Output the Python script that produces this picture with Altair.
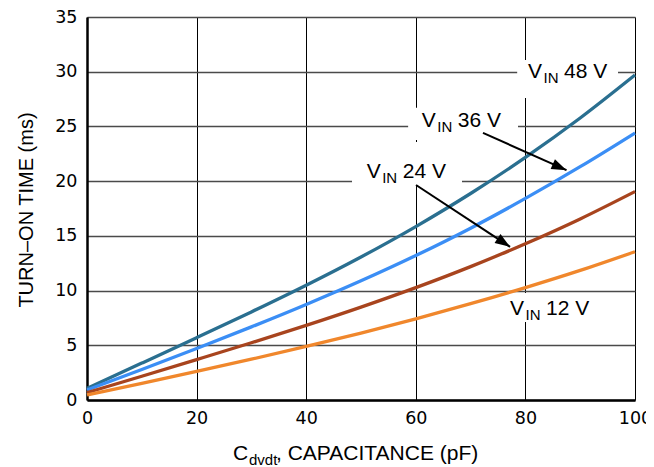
import altair as alt
import pandas as pd

# ---- data ----
cap = [0, 10, 20, 30, 40, 50, 60, 70, 80, 90, 100]
t48 = [1.07, 3.37, 5.69, 8.05, 10.49, 13.07, 15.85, 18.87, 22.17, 25.77, 29.7]
t36 = [0.91, 2.79, 4.71, 6.68, 8.73, 10.89, 13.2, 15.7, 18.42, 21.32, 24.4]
t24 = [0.67, 2.17, 3.69, 5.23, 6.82, 8.49, 10.27, 12.19, 14.28, 16.55, 19.05]
t12 = [0.46, 1.52, 2.61, 3.73, 4.9, 6.12, 7.42, 8.8, 10.27, 11.84, 13.55]
series = ["48 V", "36 V", "24 V", "12 V"]
colors = ["#2a6f90", "#3b8ef5", "#a8441e", "#f0872c"]

x_ticks = [0, 20, 40, 60, 80, 100]
y_ticks = [0, 5, 10, 15, 20, 25, 30, 35]

# label anchors (left of "V", baseline) in data units
lab_val = ["48 V", "36 V", "24 V", "12 V"]
lab_x = [80.47, 61.08, 51.04, 77.19]
lab_y = [29.43, 24.98, 20.27, 7.77]

# white label backgrounds (data units)
box_x1 = [78.5, 58.6, 48.36, 76.28]
box_x2 = [96.9, 78.65, 68.43, 92.7]
box_y1 = [31.08, 26.7, 23.58, 9.78]
box_y2 = [27.6, 23.77, 19.65, 7.13]

# arrows (start -> tip), data units
arr_x1 = [72.26, 60.04]
arr_y1 = [24.41, 19.65]
arr_x2 = [87.5, 77.2]
arr_y2 = [21.0, 14.0]
arr_ang = [23.8, 33.3]

rows = []
for name, vals in zip(series, [t48, t36, t24, t12]):
    for c, t in zip(cap, vals):
        rows.append({"C": c, "T": t, "V": name})
df = pd.DataFrame(rows)
df_lab = pd.DataFrame({"lx": lab_x, "ly": lab_y, "val": lab_val})
df_box = pd.DataFrame({"x1": box_x1, "x2": box_x2, "y1": box_y1, "y2": box_y2})
df_arr = pd.DataFrame({"x1": arr_x1, "y1": arr_y1, "x2": arr_x2, "y2": arr_y2, "ang": arr_ang})

xs = alt.Scale(domain=[0, 100], nice=False, zero=False)
ys = alt.Scale(domain=[0, 35], nice=False, zero=False)

TICK_FONT = "DejaVu Sans"
FONT = "Liberation Sans"

x_axis = alt.Axis(values=x_ticks, title=None, grid=True, gridColor="#000000", gridWidth=1,
                  domainColor="#000000", domainWidth=2.5, ticks=False, labelFont=TICK_FONT,
                  labelFontSize=17.5, labelColor="#000000", labelPadding=9, labelFlush=False,
                  labelOverlap=False)
y_axis = alt.Axis(values=y_ticks, title=None, grid=True, gridColor="#4a4a4a", gridWidth=1.4,
                  domainColor="#000000", domainWidth=2.5, ticks=False, labelFont=TICK_FONT,
                  labelFontSize=17.5, labelColor="#000000", labelPadding=10, labelFlush=False,
                  labelOverlap=False)


def X(f):
    return alt.X(f, scale=xs, axis=x_axis)


def Y(f):
    return alt.Y(f, scale=ys, axis=y_axis)


boxes = alt.Chart(df_box).mark_rect(fill="white").encode(
    x=X("x1:Q"), x2="x2:Q", y=Y("y1:Q"), y2="y2:Q",
)

lines = alt.Chart(df).mark_line(strokeWidth=3.3, interpolate="monotone").encode(
    x=X("C:Q"), y=Y("T:Q"),
    color=alt.Color("V:N", scale=alt.Scale(domain=series, range=colors), legend=None),
)

arrows = alt.Chart(df_arr).mark_rule(color="black", strokeWidth=2).encode(
    x=X("x1:Q"), y=Y("y1:Q"), x2="x2:Q", y2="y2:Q",
)
heads = alt.Chart(df_arr).mark_point(shape="M0,0L-1,-0.36L-1,0.36Z", filled=True, color="black",
                                     size=900, opacity=1, strokeWidth=0).encode(
    x=X("x2:Q"), y=Y("y2:Q"), angle=alt.Angle("ang:Q", scale=None),
)

t_v = alt.Chart(df_lab).mark_text(align="left", baseline="alphabetic", font=FONT, fontSize=21,
                                  color="black").encode(
    x=X("lx:Q"), y=Y("ly:Q"), text=alt.value("V"))
t_in = alt.Chart(df_lab).mark_text(align="left", baseline="alphabetic", font=FONT, fontSize=15,
                                   dx=15.5, dy=5, color="black").encode(
    x=X("lx:Q"), y=Y("ly:Q"), text=alt.value("IN"))
t_val = alt.Chart(df_lab).mark_text(align="left", baseline="alphabetic", font=FONT, fontSize=21,
                                    dx=36, color="black").encode(
    x=X("lx:Q"), y=Y("ly:Q"), text="val:N")

# axis titles
one = pd.DataFrame({"a": [0]})
ytitle = alt.Chart(one).mark_text(align="center", baseline="alphabetic", font=FONT, fontSize=20,
                                  angle=270, color="black").encode(
    x=alt.value(-54), y=alt.value(193), text=alt.value("TURN\u2013ON TIME (ms)"))
xt_c = alt.Chart(one).mark_text(align="left", baseline="alphabetic", font=FONT, fontSize=21,
                                color="black").encode(
    x=alt.value(146), y=alt.value(443), text=alt.value("C"))
xt_sub = alt.Chart(one).mark_text(align="left", baseline="alphabetic", font=FONT, fontSize=15,
                                  color="black").encode(
    x=alt.value(162), y=alt.value(448), text=alt.value("dvdt"))
xt_rest = alt.Chart(one).mark_text(align="left", baseline="alphabetic", font=FONT, fontSize=21,
                                   color="black").encode(
    x=alt.value(189), y=alt.value(443), text=alt.value(", CAPACITANCE (pF)"))

chart = alt.layer(boxes, lines, arrows, heads, t_v, t_in, t_val, ytitle, xt_c, xt_sub, xt_rest).properties(
    width=548, height=383,
    autosize=alt.AutoSizeParams(type="none"),
    padding={"left": 79, "top": 9, "right": 11, "bottom": 67},
).configure_view(stroke=None).configure(background="white")

chart.save("out.html", embed_options={"renderer": "svg", "actions": False})
